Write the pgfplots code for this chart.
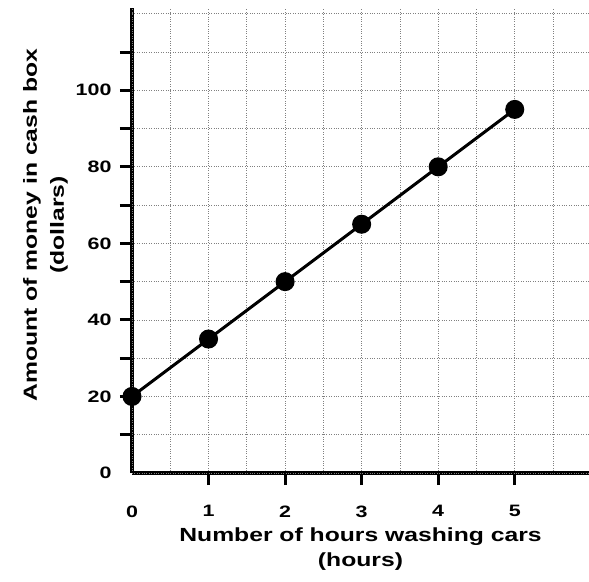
\documentclass[border=0pt]{standalone}
\usepackage{fontspec}
\setmainfont{Liberation Sans}
\newfontfamily\widefont[FakeStretch=1.3]{Liberation Sans}
\usepackage{pgfplots}
\pgfplotsset{compat=1.18}
\begin{document}
\begin{tikzpicture}
\begin{axis}[name=ax, scale only axis, width=457pt, height=465pt,
  xmin=0, xmax=5.97, ymin=0, ymax=121.5,
  axis x line=bottom, axis y line=left,
  axis line style={line width=3.5pt, -},
  tick align=outside,
  major tick length=12pt,
  major tick style={line width=3pt, black},
  xtick={1,2,3,4,5},
  xticklabels={1,2,3,4,5},
  minor xtick={0.5,1.5,2.5,3.5,4.5,5.5},
  ytick={10,20,...,110},
  yticklabels={,20,,40,,60,,80,,100,},
  extra x ticks={0}, extra x tick labels={0},
  extra y ticks={0,120}, extra y tick labels={0,},
  extra tick style={major tick style={draw=none}, grid=major},
  minor tick length=0pt,
  grid=both,
  major grid style={black!50, dotted, line width=0.7pt},
  minor grid style={black!50, dotted, line width=0.7pt},
  /pgf/number format/assume math mode=true,
  tick label style={font=\widefont\bfseries\fontsize{16.5}{18}\selectfont},
  xticklabel style={yshift=-17pt},
  yticklabel style={xshift=-5pt},
  xlabel={Number of hours washing cars\\(hours)},
  ylabel={Amount of money in cash box\\(dollars)},
  xlabel style={at={([yshift=-55pt]axis description cs:0.5,0)}, anchor=north, inner sep=0pt, align=center, font=\widefont\bfseries\fontsize{19}{25}\selectfont},
  ylabel style={at={([xshift=-64pt]axis description cs:0,0.533)}, anchor=south, inner sep=0pt, align=center, font=\widefont\bfseries\fontsize{19}{27}\selectfont},
  clip=false,
]
\addplot[black, line width=3pt, mark=*, mark size=8pt] coordinates {
  (0,20) (1,35) (2,50) (3,65) (4,80) (5,95)
};
\end{axis}
\pgfresetboundingbox
\path ([xshift=-132pt,yshift=-108pt]ax.south west) rectangle ([yshift=8pt]ax.north east);
\end{tikzpicture}
\end{document}
